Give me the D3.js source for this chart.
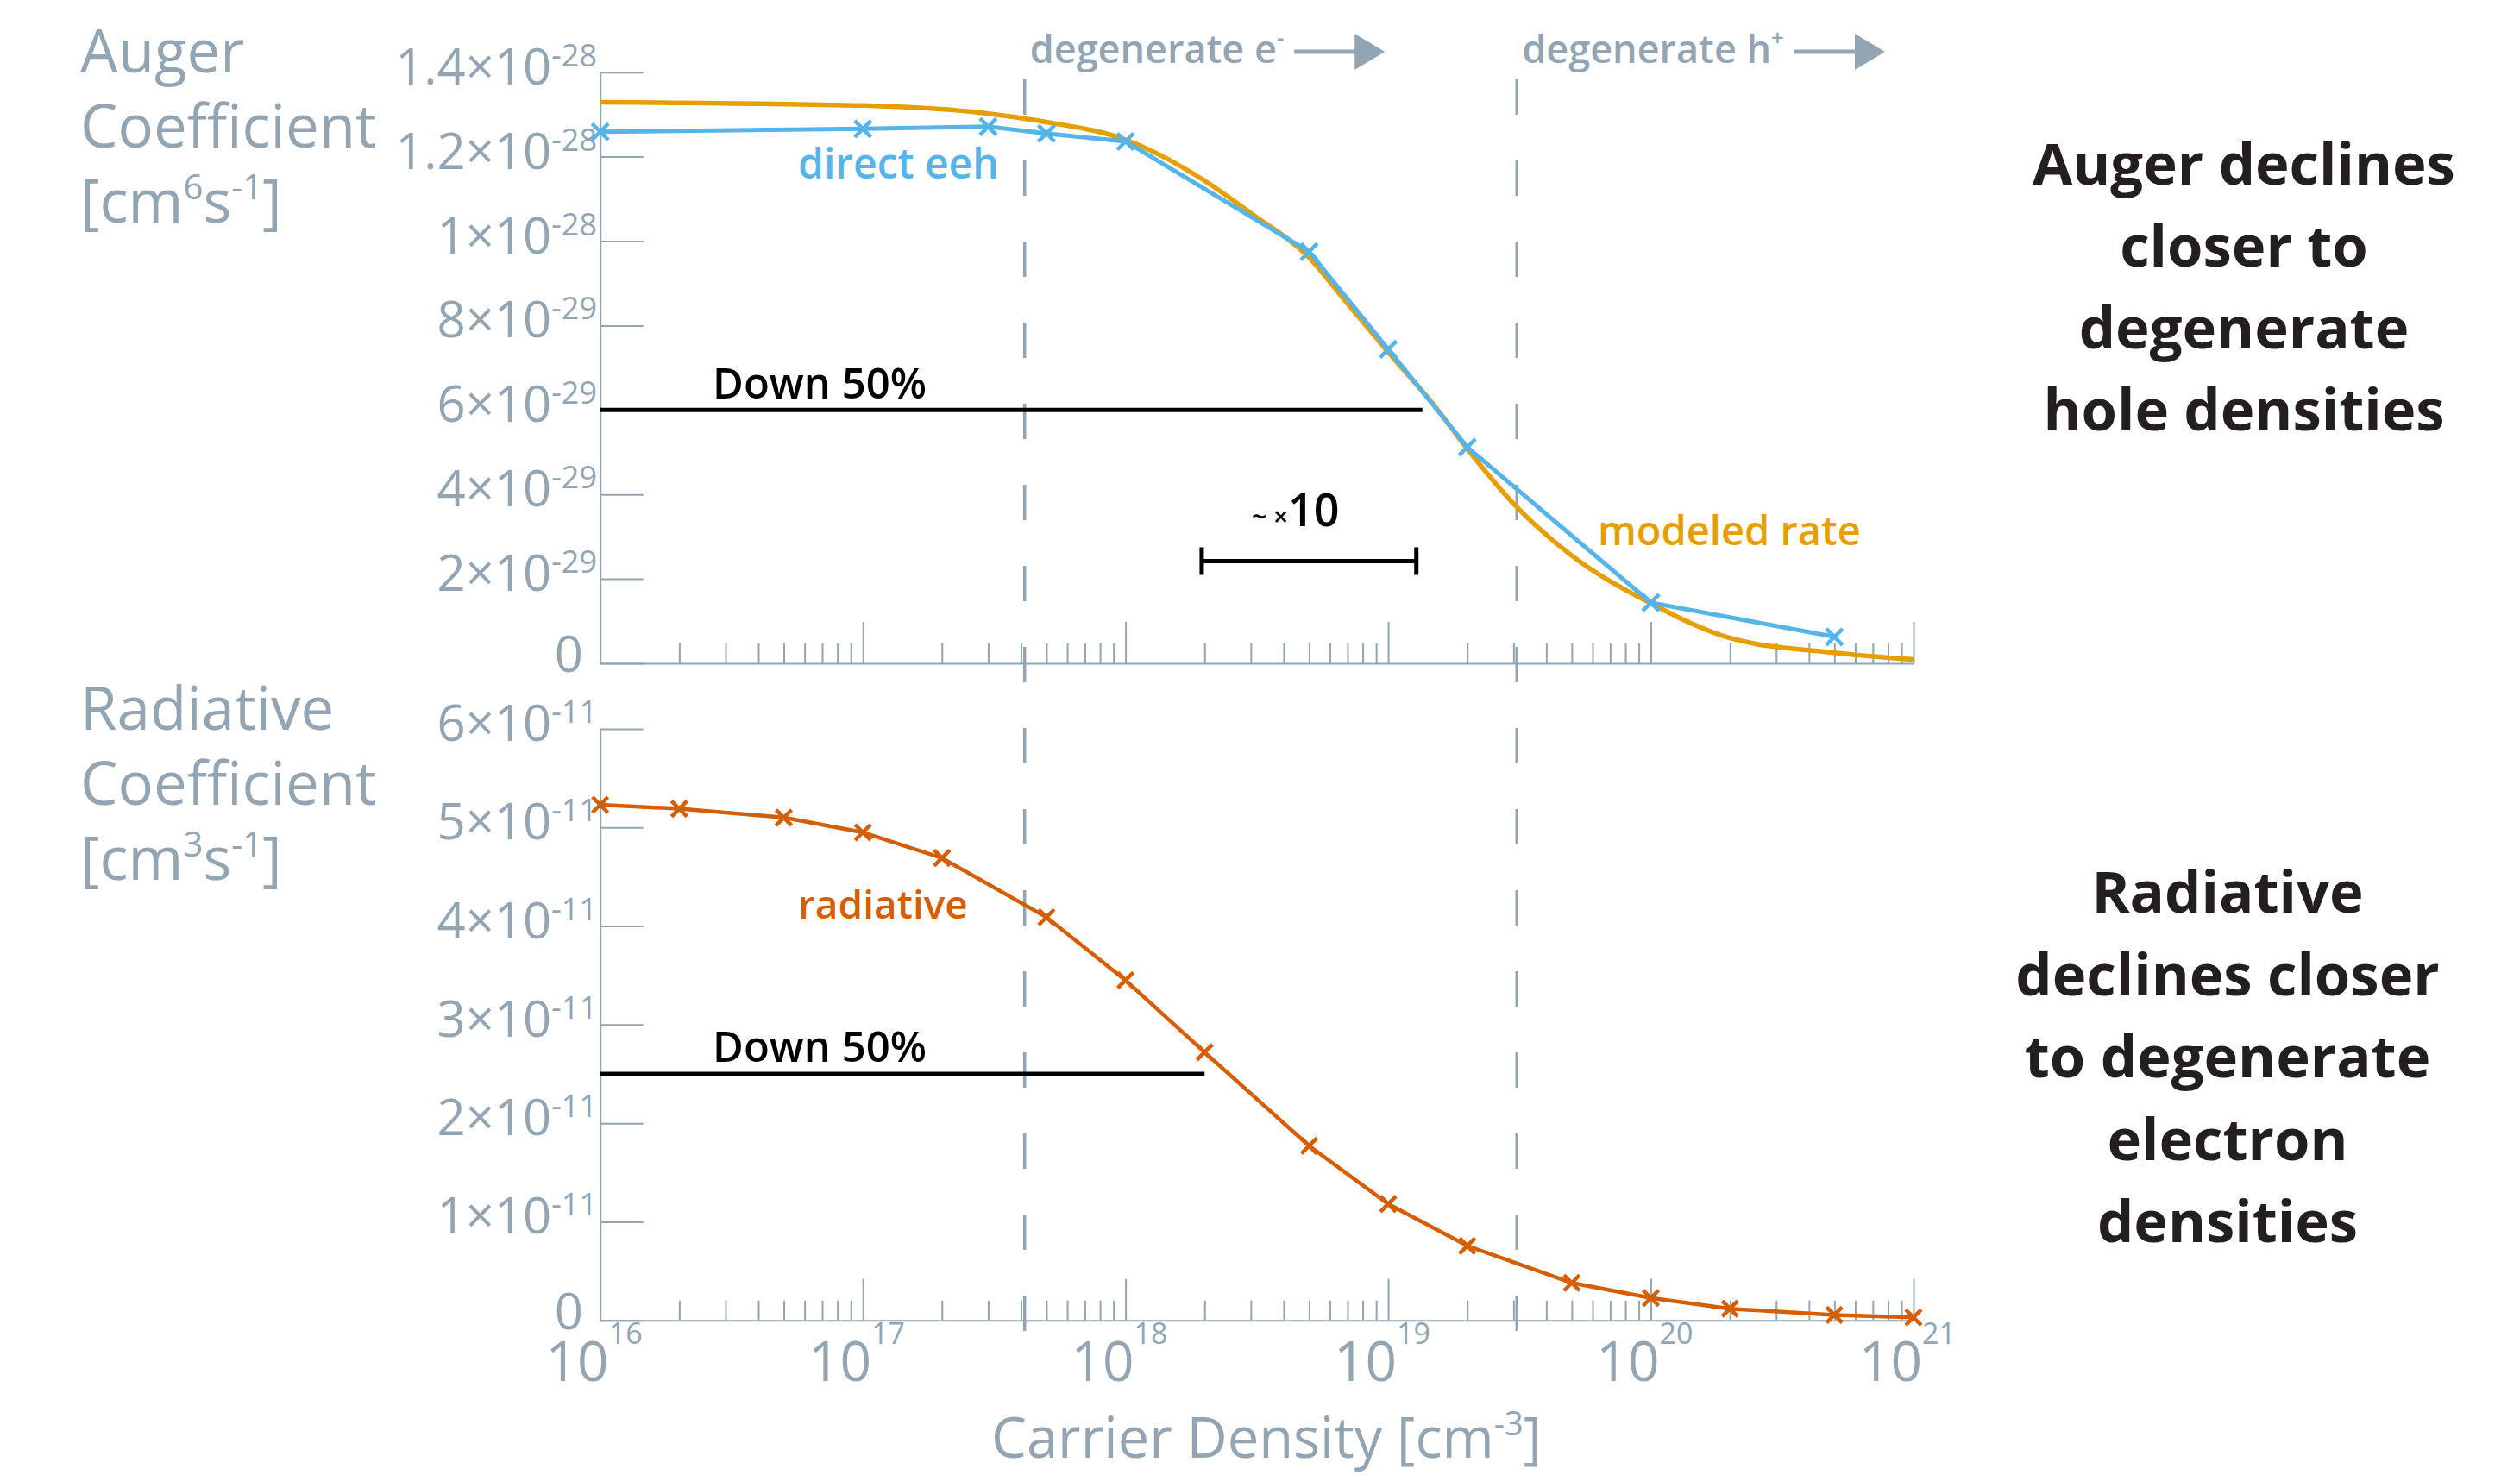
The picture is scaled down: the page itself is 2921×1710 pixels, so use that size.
<!DOCTYPE html>
<html>
<head>
<meta charset="utf-8">
<script src="https://cdn.jsdelivr.net/npm/d3@7"></script>
<style>
  body { margin: 0; background: #fff; }
  text { font-family: "Open Sans", sans-serif; }
</style>
</head>
<body>
<div id="chart"></div>
<script>
// ---- data ----
const eehDensity = [1e16, 1e17, 3e17, 5e17, 1e18, 5e18, 1e19, 2e19, 1e20, 5e20];
const eehAuger = [1.259e-28, 1.266e-28, 1.271e-28, 1.255e-28, 1.236e-28, 9.75e-29, 7.44e-29, 5.12e-29, 1.436e-29, 6.27e-30];

const modelDensity = [1e16, 1e17, 3e17, 5e17, 1e18, 2e18, 3e18, 5e18, 7e18, 1e19, 1.5e19, 2e19, 3e19, 5e19, 1e20, 2e20, 5e20, 1e21];
const modelAuger = [1.329e-28, 1.321e-28, 1.302e-28, 1.282e-28, 1.240e-28, 1.143e-28, 1.066e-28, 9.61e-29, 8.52e-29, 7.37e-29, 6.1e-29, 5.08e-29, 3.78e-29, 2.55e-29, 1.42e-29, 6.0e-30, 2.5e-30, 9e-31];

const radDensity = [1e16, 2e16, 5e16, 1e17, 2e17, 5e17, 1e18, 2e18, 5e18, 1e19, 2e19, 5e19, 1e20, 2e20, 5e20, 1e21];
const radCoef = [5.23e-11, 5.19e-11, 5.10e-11, 4.95e-11, 4.69e-11, 4.09e-11, 3.45e-11, 2.72e-11, 1.77e-11, 1.18e-11, 7.56e-12, 3.8e-12, 2.27e-12, 1.18e-12, 5.5e-13, 3e-13];

const augerTicks = [0, 2e-29, 4e-29, 6e-29, 8e-29, 1e-28, 1.2e-28, 1.4e-28];
const augerTickMain = ["0", "2×10", "4×10", "6×10", "8×10", "1×10", "1.2×10", "1.4×10"];
const augerTickSup = ["", "-29", "-29", "-29", "-29", "-28", "-28", "-28"];

const radTicks = [0, 1e-11, 2e-11, 3e-11, 4e-11, 5e-11, 6e-11];
const radTickMain = ["0", "1×10", "2×10", "3×10", "4×10", "5×10", "6×10"];
const radTickSup = ["", "-11", "-11", "-11", "-11", "-11", "-11"];

const decadeTicks = [1e16, 1e17, 1e18, 1e19, 1e20, 1e21];
const decadeSup = ["16", "17", "18", "19", "20", "21"];

const degenerateE = 4.13e17;   // onset of degenerate electrons
const degenerateH = 3.09e19;   // onset of degenerate holes
const augerHalf = 6e-29, augerHalfEnd = 1.35e19;
const radHalf = 2.5e-11, radHalfEnd = 2e18;
const tenfoldFrom = 1.95e18, tenfoldTo = 1.28e19, tenfoldLevel = 2.42e-29;

// ---- setup ----
const W = 2921, H = 1710;
const grey = "#93a4b2", dark = "#231f20";
const blue = "#56b4e9", orange = "#e69f00", red = "#d55e00";

const svg = d3.select("#chart").append("svg")
    .attr("width", W)
    .attr("height", H);

const x = d3.scaleLog().domain([1e16, 1e21]).range([695.7, 2218]);
const yAug = d3.scaleLinear().domain([0, 1.4e-28]).range([769, 83.7]);
const yRad = d3.scaleLinear().domain([0, 6e-11]).range([1530.7, 845]);

const minorTicks = x.ticks().filter(d => !decadeTicks.includes(d));

// dashed degeneracy lines behind everything
[degenerateE, degenerateH].forEach(v => {
    svg.append("line")
        .attr("x1", x(v)).attr("x2", x(v))
        .attr("y1", 92).attr("y2", 1543)
        .attr("stroke", grey)
        .attr("stroke-width", 3.5)
        .attr("stroke-dasharray", "41 53");
});

function styleAxis(g) {
    g.selectAll("path.domain").attr("stroke", grey).attr("stroke-width", 2);
    g.selectAll(".tick line").attr("stroke", grey).attr("stroke-width", 2);
    g.selectAll(".tick text").remove();
}

function drawAxes(y, ticks, mains, sups) {
    const y0 = y.range()[0];
    svg.append("g")
        .attr("transform", `translate(0,${y0})`)
        .call(d3.axisBottom(x).tickValues(minorTicks).tickSize(-23).tickSizeOuter(0).tickFormat(""))
        .call(styleAxis);
    svg.append("g")
        .attr("transform", `translate(0,${y0})`)
        .call(d3.axisBottom(x).tickValues(decadeTicks.slice(1)).tickSize(-48).tickSizeOuter(0).tickFormat(""))
        .call(styleAxis)
        .call(g => g.select("path.domain").remove());
    svg.append("g")
        .attr("transform", `translate(${x.range()[0]},0)`)
        .call(d3.axisLeft(y).tickValues(ticks).tickSize(-50).tickSizeOuter(0).tickFormat(""))
        .call(styleAxis);

    ticks.forEach((t, i) => {
        const txt = svg.append("text")
            .attr("x", sups[i] ? 692 : 676)
            .attr("y", sups[i] ? y(t) + 14 : y(t) + 10)
            .attr("text-anchor", "end")
            .attr("fill", grey);
        txt.append("tspan").attr("font-size", 58).text(mains[i]);
        if (sups[i]) txt.append("tspan").attr("font-size", 36).attr("dy", -21).text(sups[i]);
    });
}

drawAxes(yAug, augerTicks, augerTickMain, augerTickSup);
drawAxes(yRad, radTicks, radTickMain, radTickSup);

// x tick labels under the lower panel
decadeTicks.forEach((d, i) => {
    svg.append("text")
        .attr("x", x(d) + 10).attr("y", 1601)
        .attr("text-anchor", "end")
        .attr("font-size", 64)
        .attr("fill", grey)
        .text("10");
    svg.append("text")
        .attr("x", x(d) + 10).attr("y", 1558)
        .attr("font-size", 34)
        .attr("fill", grey)
        .text(decadeSup[i]);
});

// axis titles
function unitTitle(x0, yTop, words, power) {
    words.forEach((w, i) => {
        svg.append("text").attr("x", x0).attr("y", yTop + i * 87)
            .attr("fill", grey).attr("font-size", 69).text(w);
    });
    const u = svg.append("text").attr("x", x0).attr("y", yTop + words.length * 87)
        .attr("fill", grey).attr("font-size", 69);
    u.append("tspan").text("[cm");
    u.append("tspan").attr("font-size", 40).attr("dy", -27).text(power);
    u.append("tspan").attr("dy", 27).text("s");
    u.append("tspan").attr("font-size", 40).attr("dy", -27).text("-1");
    u.append("tspan").attr("dy", 27).text("]");
}
unitTitle(93, 84, ["Auger", "Coefficient"], "6");
unitTitle(93, 846, ["Radiative", "Coefficient"], "3");

const xt = svg.append("text")
    .attr("x", 1468).attr("y", 1690)
    .attr("text-anchor", "middle")
    .attr("fill", grey).attr("font-size", 65);
xt.append("tspan").text("Carrier Density [cm");
xt.append("tspan").attr("font-size", 38).attr("dy", -26).text("-3");
xt.append("tspan").attr("dy", 26).text("]");

// degenerate labels with arrows
function degLabel(v, sign) {
    const x0 = x(v) + 6;
    const t = svg.append("text").attr("x", x0).attr("y", 73)
        .attr("fill", grey).attr("font-size", 45).attr("font-weight", 600);
    t.append("tspan").text("degenerate " + (sign === "-" ? "e" : "h"));
    t.append("tspan").attr("font-size", 26).attr("dy", -20).text(sign);
    const end = x0 + t.node().getComputedTextLength();
    svg.append("line")
        .attr("x1", end + 12).attr("x2", end + 84)
        .attr("y1", 60).attr("y2", 60)
        .attr("stroke", grey).attr("stroke-width", 5);
    svg.append("path")
        .attr("d", `M${end + 82},39L${end + 117},60L${end + 82},81Z`)
        .attr("fill", grey);
}
degLabel(degenerateE, "-");
degLabel(degenerateH, "+");

// 50% reference lines
svg.append("line")
    .attr("x1", x(1e16)).attr("x2", x(augerHalfEnd))
    .attr("y1", yAug(augerHalf)).attr("y2", yAug(augerHalf))
    .attr("stroke", "#000").attr("stroke-width", 5);
svg.append("line")
    .attr("x1", x(1e16)).attr("x2", x(radHalfEnd))
    .attr("y1", yRad(radHalf)).attr("y2", yRad(radHalf))
    .attr("stroke", "#000").attr("stroke-width", 5);
svg.append("text").attr("x", 826).attr("y", 462)
    .attr("font-size", 49).attr("font-weight", 600).attr("fill", "#000").text("Down 50%");
svg.append("text").attr("x", 826).attr("y", 1231)
    .attr("font-size", 49).attr("font-weight", 600).attr("fill", "#000").text("Down 50%");

// ~x10 bracket
const by = yAug(tenfoldLevel);
svg.append("path")
    .attr("d", `M${x(tenfoldFrom)},${by - 16}V${by + 16}M${x(tenfoldFrom)},${by}H${x(tenfoldTo)}M${x(tenfoldTo)},${by - 16}V${by + 16}`)
    .attr("stroke", "#000").attr("stroke-width", 5).attr("fill", "none");
const tx = svg.append("text").attr("x", 1451).attr("y", 610).attr("fill", "#000").attr("font-weight", 600);
tx.append("tspan").attr("font-size", 30).text("~ ×");
tx.append("tspan").attr("font-size", 52).text("10");

// series
const lineAug = d3.line().x(d => x(d[0])).y(d => yAug(d[1]));
const lineRad = d3.line().x(d => x(d[0])).y(d => yRad(d[1]));

svg.append("path")
    .datum(modelDensity.map((n, i) => [n, modelAuger[i]]))
    .attr("d", lineAug.curve(d3.curveMonotoneX))
    .attr("fill", "none").attr("stroke", orange).attr("stroke-width", 5.5);

const eeh = eehDensity.map((n, i) => [n, eehAuger[i]]);
svg.append("path")
    .datum(eeh)
    .attr("d", d3.line().x(d => x(d[0])).y(d => yAug(d[1])))
    .attr("fill", "none").attr("stroke", blue).attr("stroke-width", 5);

const rad = radDensity.map((n, i) => [n, radCoef[i]]);
svg.append("path")
    .datum(rad)
    .attr("d", lineRad)
    .attr("fill", "none").attr("stroke", red).attr("stroke-width", 4.5);

const cross = "M-9.5,-9.5L9.5,9.5M-9.5,9.5L9.5,-9.5";
svg.selectAll(".eeh-mark").data(eeh).enter().append("path")
    .attr("class", "eeh-mark")
    .attr("transform", d => `translate(${x(d[0])},${yAug(d[1])})`)
    .attr("d", cross).attr("stroke", blue).attr("stroke-width", 4.5);
svg.selectAll(".rad-mark").data(rad).enter().append("path")
    .attr("class", "rad-mark")
    .attr("transform", d => `translate(${x(d[0])},${yRad(d[1])})`)
    .attr("d", "M-9,-9L9,9M-9,9L9,-9").attr("stroke", red).attr("stroke-width", 4.5);

// series labels
svg.append("text").attr("x", 925).attr("y", 207)
    .attr("font-size", 48).attr("font-weight", 600).attr("fill", blue).text("direct eeh");
svg.append("text").attr("x", 1852).attr("y", 632)
    .attr("font-size", 47).attr("font-weight", 600).attr("fill", orange).text("modeled rate");
svg.append("text").attr("x", 925).attr("y", 1065)
    .attr("font-size", 46).attr("font-weight", 600).attr("fill", red).text("radiative");

// side notes
const noteTop = ["Auger declines", "closer to", "degenerate", "hole densities"];
const noteBottom = ["Radiative", "declines closer", "to degenerate", "electron", "densities"];
noteTop.forEach((s, i) => {
    svg.append("text").attr("x", 2601).attr("y", 214 + i * 95)
        .attr("text-anchor", "middle").attr("font-size", 67).attr("font-weight", 700)
        .attr("fill", dark).text(s);
});
noteBottom.forEach((s, i) => {
    svg.append("text").attr("x", 2582).attr("y", 1058 + i * 95.5)
        .attr("text-anchor", "middle").attr("font-size", 67).attr("font-weight", 700)
        .attr("fill", dark).text(s);
});
</script>
</body>
</html>
